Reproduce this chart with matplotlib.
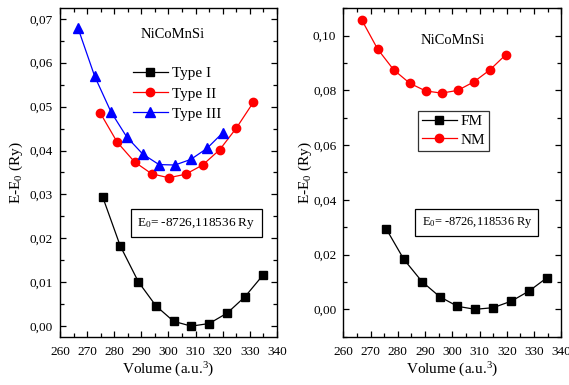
import matplotlib
matplotlib.use("Agg")
import matplotlib.pyplot as plt
from matplotlib.ticker import MultipleLocator, FuncFormatter

plt.rcParams['font.family'] = ['Liberation Serif', 'DejaVu Serif']
plt.rcParams['mathtext.fontset'] = 'custom'
plt.rcParams['mathtext.rm'] = 'Liberation Serif'
plt.rcParams['mathtext.it'] = 'Liberation Serif:italic'

# Volumes (a.u.^3) and energies relative to E0 (Ry)
vol_type1 = [275.7, 282.2, 288.9, 295.4, 301.9, 308.4, 315.0, 321.7, 328.2, 334.8]
e_type1 = [0.0295, 0.0183, 0.0101, 0.0046, 0.0011, 0.0000, 0.0006, 0.0030, 0.0067, 0.0116]

vol_type2 = [274.9, 281.1, 287.5, 293.8, 300.1, 306.3, 312.6, 318.9, 325.0, 331.3]
e_type2 = [0.0485, 0.0419, 0.0374, 0.0347, 0.0338, 0.0346, 0.0367, 0.0402, 0.0451, 0.0510]

vol_type3 = [266.7, 272.8, 278.8, 284.6, 290.5, 296.5, 302.4, 308.3, 314.2, 320.1]
e_type3 = [0.0678, 0.0569, 0.0488, 0.0431, 0.0392, 0.0368, 0.0367, 0.0380, 0.0405, 0.0441]

vol_nm = [266.75, 272.6, 278.5, 284.4, 290.2, 296.1, 302.0, 307.9, 313.8, 319.7]
e_nm = [0.1058, 0.0951, 0.0875, 0.0826, 0.0798, 0.0790, 0.0800, 0.0831, 0.0875, 0.0931]

compound = "NiCoMnSi"
e0_label = r"E$_0$= -8726,118536 Ry"
xlabel = r"Volume (a.u.$^3$)"
ylabel = r"E-E$_0$ (Ry)"

fig = plt.figure(figsize=(5.69, 3.85), dpi=100)
ax1 = fig.add_axes([0.1054, 0.1255, 0.3814, 0.853])
ax2 = fig.add_axes([0.6033, 0.1255, 0.3832, 0.853])

comma = FuncFormatter(lambda v, p: f"{v:.2f}".replace(".", ","))

def style(ax, ymaj, ymin, ylabelpad):
    ax.set_xlim(260, 340)
    ax.xaxis.set_major_locator(MultipleLocator(10))
    ax.xaxis.set_minor_locator(MultipleLocator(5))
    ax.yaxis.set_major_locator(MultipleLocator(ymaj))
    ax.yaxis.set_minor_locator(MultipleLocator(ymin))
    ax.yaxis.set_major_formatter(comma)
    ax.tick_params(which='both', direction='in', top=True, right=True,
                   labelsize=9.5, width=0.9)
    ax.tick_params(which='major', length=4.5, pad=5)
    ax.tick_params(axis='x', which='major', pad=7)
    ax.tick_params(which='minor', length=2.8)
    for s in ax.spines.values():
        s.set_linewidth(1.0)
    ax.set_xlabel(xlabel, fontsize=11, labelpad=1.5)
    ax.set_ylabel(ylabel, fontsize=11, labelpad=ylabelpad)

lw = 0.9
ax1.plot(vol_type1, e_type1, '-s', color='black', lw=lw, ms=5.5, label='Type I')
ax1.plot(vol_type2, e_type2, '-o', color='red', lw=lw, ms=6, label='Type II')
ax1.plot(vol_type3, e_type3, '-^', color='blue', lw=lw, ms=6.5, label='Type III')
ax1.set_ylim(-0.0024, 0.0724)
style(ax1, 0.01, 0.005, 3)
ax1.text(0.52, 0.919, compound, transform=ax1.transAxes, ha='center', va='center', fontsize=10.5)
ax1.legend(loc='upper left', bbox_to_anchor=(0.336, 0.822), frameon=False, fontsize=11,
           handlelength=2.3, handletextpad=0.25, labelspacing=0.42, borderaxespad=0,
           borderpad=0)
ax1.text(0.629, 0.345, e0_label, transform=ax1.transAxes, ha='center', va='center', fontsize=9.5,
         bbox=dict(boxstyle='square,pad=0.5', fc='white', ec='black', lw=0.9))

ax2.plot(vol_type1, e_type1, '-s', color='black', lw=lw, ms=5.5, label='FM')
ax2.plot(vol_nm, e_nm, '-o', color='red', lw=lw, ms=6, label='NM')
ax2.set_ylim(-0.01, 0.11)
style(ax2, 0.02, 0.01, -1)
ax2.text(0.503, 0.903, compound, transform=ax2.transAxes, ha='center', va='center', fontsize=10.5)
leg = ax2.legend(loc='upper left', bbox_to_anchor=(0.343, 0.688), frameon=True, fontsize=11,
                 handlelength=2.3, handletextpad=0.25, labelspacing=0.32, borderaxespad=0,
                 fancybox=False, borderpad=0.25)
leg.get_frame().set_edgecolor('black')
leg.get_frame().set_linewidth(0.9)
ax2.text(0.613, 0.347, e0_label, transform=ax2.transAxes, ha='center', va='center', fontsize=8.9,
         bbox=dict(boxstyle='square,pad=0.5', fc='white', ec='black', lw=0.9))

fig.savefig("out.png", dpi=100)
